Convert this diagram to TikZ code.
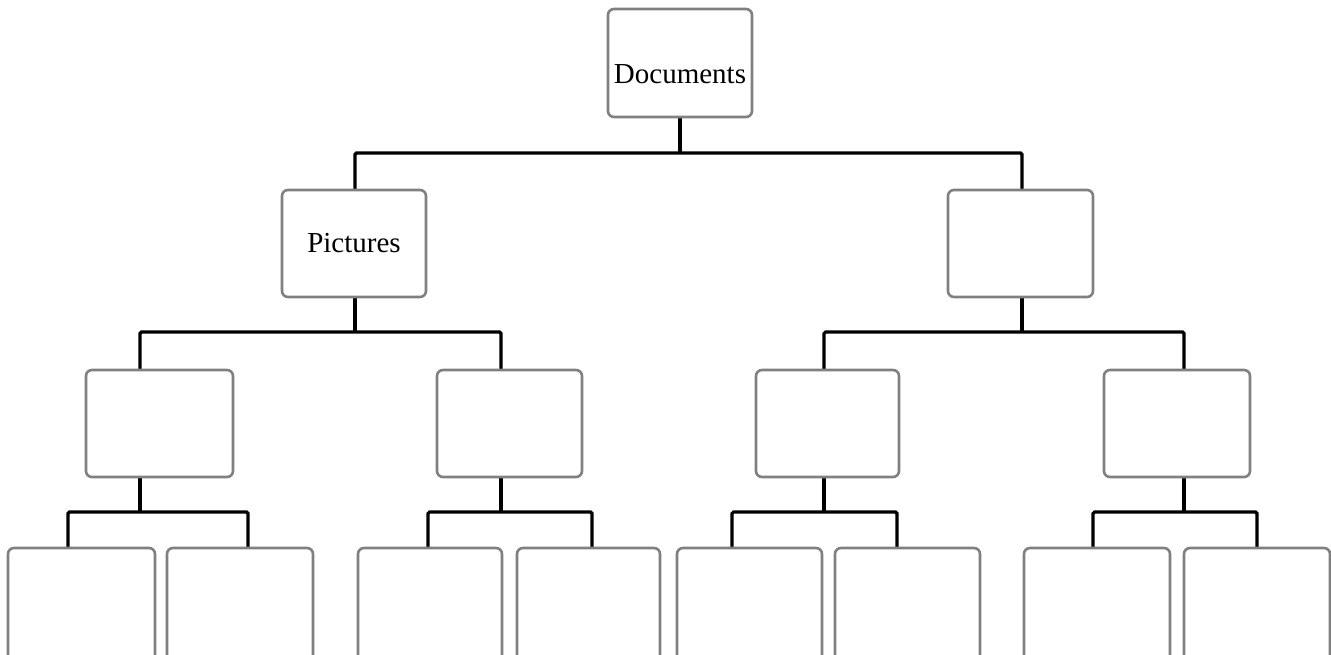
\documentclass[tikz,border=0pt]{standalone}
\usepackage{fontspec}
\setmainfont{Liberation Serif}
\begin{document}
\begin{tikzpicture}[x=1pt,y=-1pt,
  box/.style={draw=black!50,line width=2.6pt,rounded corners=6pt,rectangle,inner sep=0pt,fill=white,font=\fontsize{29}{34}\selectfont},
  lvl/.style={box,minimum height=107pt},
  leaf/.style={box,minimum height=160pt},
  conn/.style={draw=black,line width=3.2pt,rounded corners=1.5pt}]
\useasboundingbox (0,0) rectangle (1331,654);
\clip (0,0) rectangle (1331,654);
% coordinates of junctions
\coordinate (j0) at (680,153);
\coordinate (jA) at (355,332);
\coordinate (jB) at (1022,332);
\coordinate (j1) at (140,512);
\coordinate (j2) at (501,512);
\coordinate (j3) at (824,512);
\coordinate (j4) at (1184,512);
\coordinate (xA) at (355,0);
\coordinate (xB) at (1022,0);
\coordinate (x1) at (140,0);
\coordinate (x2) at (501,0);
\coordinate (x3) at (824,0);
\coordinate (x4) at (1184,0);
\coordinate (xd1) at (68,0);
\coordinate (xd2) at (248,0);
\coordinate (xd3) at (428,0);
\coordinate (xd4) at (592,0);
\coordinate (xd5) at (732,0);
\coordinate (xd6) at (897,0);
\coordinate (xd7) at (1093,0);
\coordinate (xd8) at (1257,0);
% connectors (drawn first, boxes cover ends)
\path[conn] (680,117) coordinate (r0) -- (j0);
\path[conn] (xA |- 0,192) -- (xA |- j0) -- (j0) -- (xB |- j0) -- (xB |- 0,192);
\path[conn] (xA |- 0,297) -- (jA);
\path[conn] (xB |- 0,297) -- (jB);
\path[conn] (x1 |- 0,372) -- (x1 |- jA) -- (jA) -- (x2 |- jA) -- (x2 |- 0,372);
\path[conn] (x3 |- 0,372) -- (x3 |- jB) -- (jB) -- (x4 |- jB) -- (x4 |- 0,372);
\path[conn] (x1 |- 0,477) -- (j1);
\path[conn] (x2 |- 0,477) -- (j2);
\path[conn] (x3 |- 0,477) -- (j3);
\path[conn] (x4 |- 0,477) -- (j4);
\path[conn] (xd1 |- 0,550) -- (xd1 |- j1) -- (j1) -- (xd2 |- j1) -- (xd2 |- 0,550);
\path[conn] (xd3 |- 0,550) -- (xd3 |- j2) -- (j2) -- (xd4 |- j2) -- (xd4 |- 0,550);
\path[conn] (xd5 |- 0,550) -- (xd5 |- j3) -- (j3) -- (xd6 |- j3) -- (xd6 |- 0,550);
\path[conn] (xd7 |- 0,550) -- (xd7 |- j4) -- (j4) -- (xd8 |- j4) -- (xd8 |- 0,550);
% boxes
\node[lvl,minimum width=144pt,minimum height=108pt] (root) at (680,63) {\raisebox{-20pt}[0pt][0pt]{Documents}};
\node[lvl,minimum width=144pt] (A) at (354,243.5) {Pictures};
\node[lvl,minimum width=145pt] (B) at (1020.5,243.5) {};
\node[lvl,minimum width=147pt] (C1) at (159.5,423.5) {};
\node[lvl,minimum width=145pt] (C2) at (509.5,423.5) {};
\node[lvl,minimum width=143pt] (C3) at (827.5,423.5) {};
\node[lvl,minimum width=146pt] (C4) at (1177,423.5) {};
\node[leaf,minimum width=147pt] (D1) at (81.5,628) {};
\node[leaf,minimum width=146pt] (D2) at (240,628) {};
\node[leaf,minimum width=144pt] (D3) at (430,628) {};
\node[leaf,minimum width=143pt] (D4) at (588.5,628) {};
\node[leaf,minimum width=145pt] (D5) at (749.5,628) {};
\node[leaf,minimum width=145pt] (D6) at (907.5,628) {};
\node[leaf,minimum width=146pt] (D7) at (1097,628) {};
\node[leaf,minimum width=146pt] (D8) at (1257,628) {};
\end{tikzpicture}
\end{document}
